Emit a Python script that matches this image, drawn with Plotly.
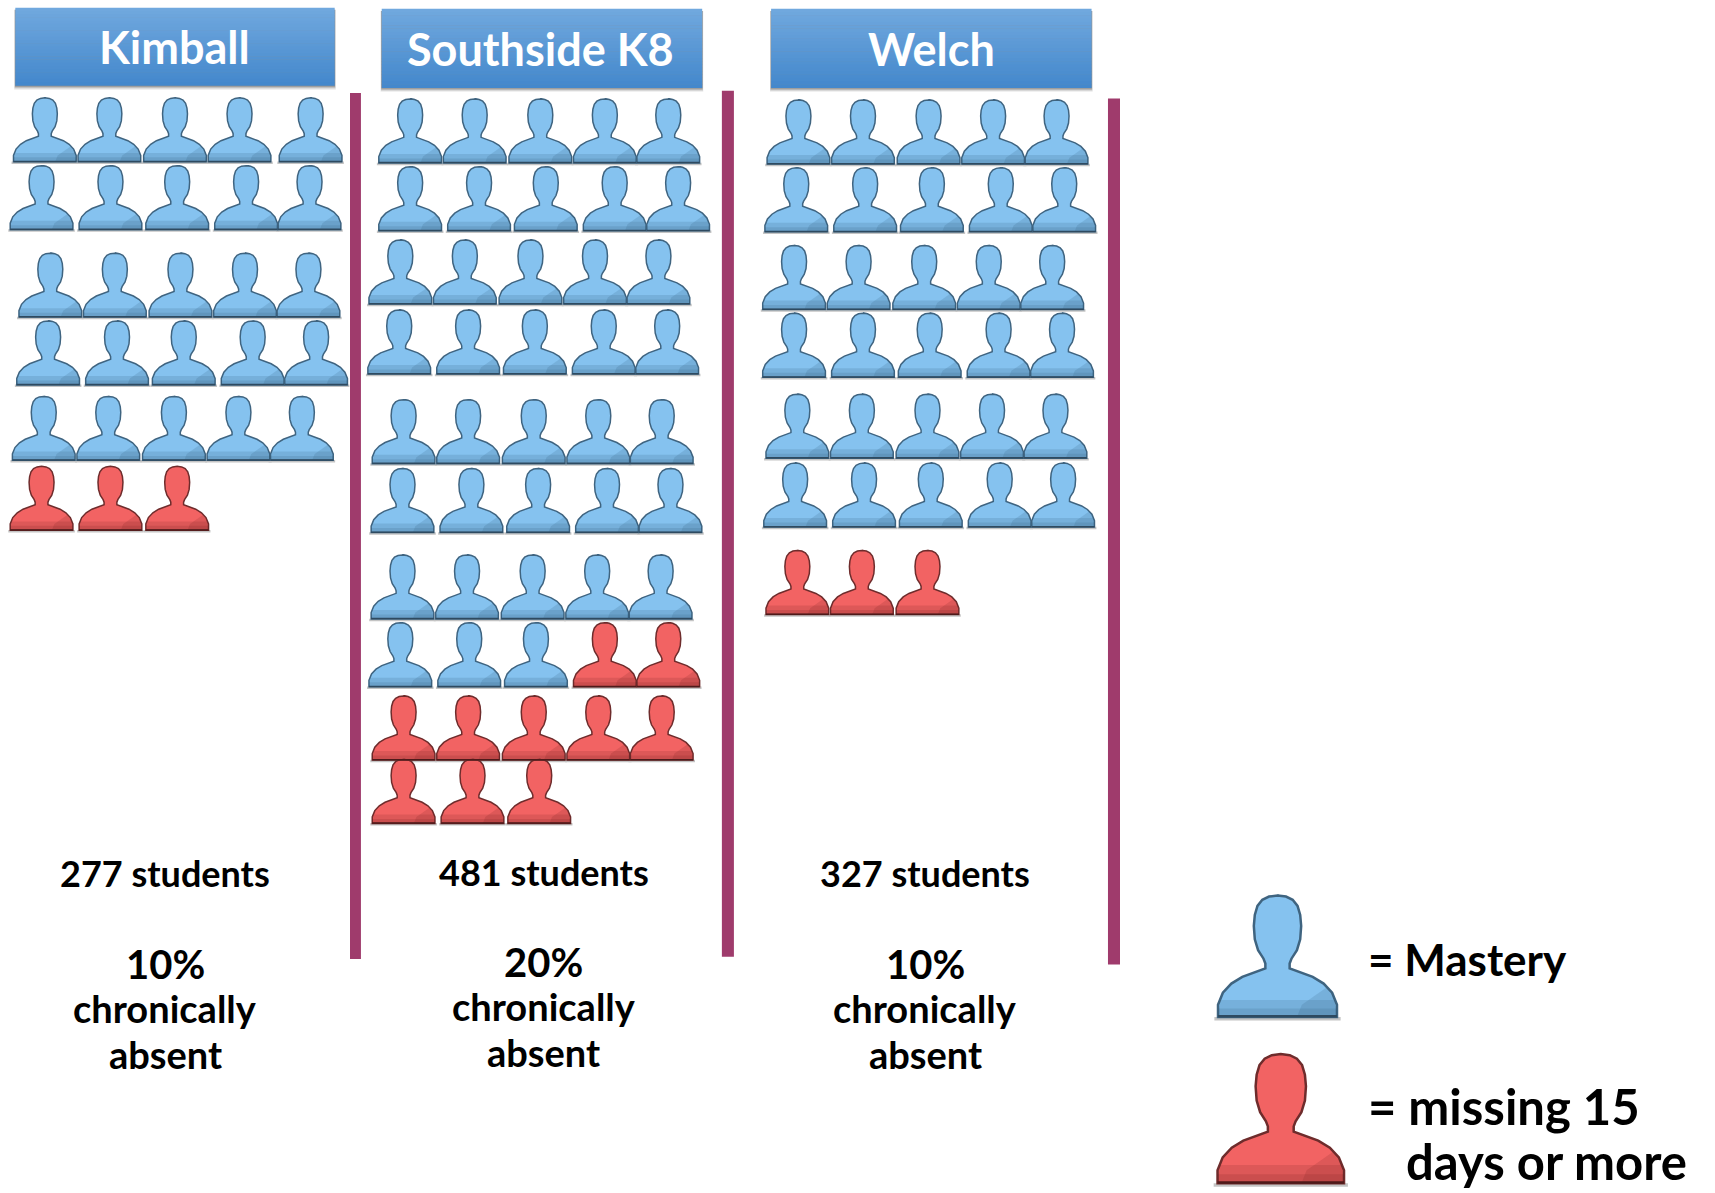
import plotly.graph_objects as go

# ---- data ----
schools = ["Kimball", "Southside K8", "Welch"]
mastery_icons = [25, 38, 30]
missing_icons = [3, 10, 3]
students = [277, 481, 327]
chronic_pct = [10, 20, 10]

# ---- layout (units: 1568 x 1091 canvas) ----
W, H = 1568, 1091
ICON = 58.5
ROW_A = [0, 59, 119, 178, 236]
ROW_B = [0, 63, 124, 187, 245]
# per school: (row start x, row baseline y, spacing template)
ROWS = [
    [(41, 148, ROW_A), (38, 210, ROW_B), (46, 290, ROW_A), (44, 352, ROW_B), (40, 421, ROW_A), (38, 485, ROW_B)],
    [(375, 149, ROW_A), (375, 211, ROW_B), (366, 278, ROW_A), (365, 342, ROW_B), (369, 424, ROW_A),
     (368, 487, ROW_B), (368, 566, ROW_A), (366, 628, ROW_B), (369, 695, ROW_A), (369, 753, ROW_B)],
    [(730, 150, ROW_A), (728, 212, ROW_B), (726, 283, ROW_A), (726, 345, ROW_B), (729, 419, ROW_A),
     (727, 482, ROW_B), (729, 562, ROW_A)],
]
NUDGE = {(0, 0, 4): 7}
HEADERS = [(14, 306, 7, 78), (349, 642, 8, 80), (705, 998, 8, 80)]
HEADER_TEXT_X = [159.5, 494.5, 852]
RULES = [(320, 330, 85, 877), (660, 671, 83, 875), (1013, 1024, 90, 882)]
TEXT_X = [151, 497, 846]
TEXT_Y = [(798, 882, 922, 964), (797, 880, 920, 962), (798, 882, 922, 964)]
BODY_FONT = "Lato"

BLUE = dict(fill="#85C2EF", line="#3F6480", shade="rgba(45,85,120,0.16)", base="#2E4A60")
RED = dict(fill="#F26363", line="#6E2C2C", shade="rgba(110,30,30,0.16)", base="#4E1A1A")

HALF = [(0, 0), (.07, .008), (.125, .035), (.165, .085), (.187, .16), (.195, .25), (.187, .36), (.16, .45),
        (.115, .52), (.10, .56), (.10, .60), (.17, .625), (.29, .67), (.38, .725), (.45, .80), (.49, .90), (.49, 1.0)]
OUTLINE = HALF + [(-x, y) for x, y in reversed(HALF[1:])] + [(0, 0), (.07, .008)]
SHADES = [
    [(.16, 1), (.20, .90), (.30, .83), (.40, .76), (.45, .80), (.49, .90), (.49, 1)],
    [(-.47, .86), (.47, .86), (.49, 1), (-.49, 1)],
    [(-.49, .93), (.49, .93), (.49, 1), (-.49, 1)],
]


def polys(centers, size, shapes):
    xs, ys = [], []
    for cx, base in centers:
        for shp in shapes:
            for px, py in shp:
                xs.append(cx + px * size)
                ys.append(base - size + py * size)
            xs.append(None)
            ys.append(None)
    return xs, ys


def add_icons(fig, centers, size, pal, lw):
    x, y = polys(centers, size, [[(-.52, 1.015), (.52, 1.015)]])
    fig.add_trace(go.Scatter(x=x, y=y, mode="lines", line=dict(color="#C4C4C4", width=lw + 1), hoverinfo="skip"))
    x, y = polys(centers, size, [OUTLINE])
    fig.add_trace(go.Scatter(x=x, y=y, mode="lines", fill="toself", fillcolor=pal["fill"],
                             line=dict(color=pal["line"], width=lw), hoverinfo="skip"))
    for shp in SHADES:
        x, y = polys(centers, size, [shp])
        fig.add_trace(go.Scatter(x=x, y=y, mode="lines", fill="toself", fillcolor=pal["shade"],
                                 line=dict(width=0, color="rgba(0,0,0,0)"), hoverinfo="skip"))
    x, y = polys(centers, size, [[(-.49, .995), (.49, .995)]])
    fig.add_trace(go.Scatter(x=x, y=y, mode="lines", line=dict(color=pal["base"], width=lw), hoverinfo="skip"))


fig = go.Figure()
shapes, annos = [], []


def text(x, y, s, size, color="#000000", family=BODY_FONT, anchor="center"):
    annos.append(dict(x=x, y=y, xref="x", yref="y", text=s, showarrow=False, xanchor=anchor, yanchor="middle",
                      font=dict(family=family, size=size, color=color), align=anchor))


for i, name in enumerate(schools):
    slots = []
    for r, (x0, base, tmpl) in enumerate(ROWS[i]):
        for c, dx in enumerate(tmpl):
            slots.append((x0 + dx + NUDGE.get((i, r, c), 0), base))
    nb, nr = mastery_icons[i], missing_icons[i]
    add_icons(fig, slots[:nb], ICON, BLUE, 1.5)
    add_icons(fig, slots[nb:nb + nr], ICON, RED, 1.5)

    # header with shadow and vertical gradient
    x0, x1, y0, y1 = HEADERS[i]
    for k, op in ((4, .10), (3, .15), (2, .22), (1, .28)):
        shapes.append(dict(type="rect", xref="x", yref="y", x0=x0 - k / 4, x1=x1 + k / 4, y0=y0 + 2, y1=y1 + k,
                           fillcolor=f"rgba(60,60,60,{op})", line_width=0, layer="below"))
    N = 24
    for k in range(N):
        t = k / (N - 1)
        r_ = round(0x70 + (0x44 - 0x70) * t)
        g_ = round(0xA8 + (0x88 - 0xA8) * t)
        b_ = round(0xDE + (0xCC - 0xDE) * t)
        shapes.append(dict(type="rect", xref="x", yref="y", x0=x0, x1=x1,
                           y0=y0 + (y1 - y0) * k / N, y1=y0 + (y1 - y0) * (k + 1) / N + .4,
                           fillcolor=f"rgb({r_},{g_},{b_})", line_width=0, layer="below"))
    text(HEADER_TEXT_X[i], (y0 + y1) / 2 + 0.5, f"<b>{name}</b>", 45, "#FFFFFF")

    # rule
    a, b, c, d = RULES[i]
    shapes.append(dict(type="rect", xref="x", yref="y", x0=a, x1=b, y0=c, y1=d, fillcolor="#9F3B6C", line_width=0))

    # captions
    ys = TEXT_Y[i]
    tx = TEXT_X[i]
    text(tx, ys[0], f"<b>{students[i]} students</b>", 36)
    text(tx, ys[1], f"<b>{chronic_pct[i]}%</b>", 40)
    text(tx, ys[2], "<b>chronically</b>", 38)
    text(tx, ys[3], "<b>absent</b>", 38)

# legend
add_icons(fig, [(1168, 930)], 111, BLUE, 2.5)
add_icons(fig, [(1171, 1082)], 118, RED, 2.5)
text(1249, 877, "<b>= Mastery</b>", 44, family="Lato", anchor="left")
text(1249, 1011, "<b>= missing 15</b>", 49, family="Lato", anchor="left")
text(1284, 1062, "<b>days or more</b>", 49, family="Lato", anchor="left")

fig.update_layout(
    width=1715, height=1193, margin=dict(l=0, r=0, t=0, b=0), showlegend=False,
    paper_bgcolor="white", plot_bgcolor="white", shapes=shapes, annotations=annos,
    xaxis=dict(range=[0, W], visible=False, fixedrange=True),
    yaxis=dict(range=[H, 0], visible=False, fixedrange=True),
)
fig.write_html("out.html", config=dict(displayModeBar=False),
               post_script="document.body.style.margin='0';document.documentElement.style.overflow='hidden';")
